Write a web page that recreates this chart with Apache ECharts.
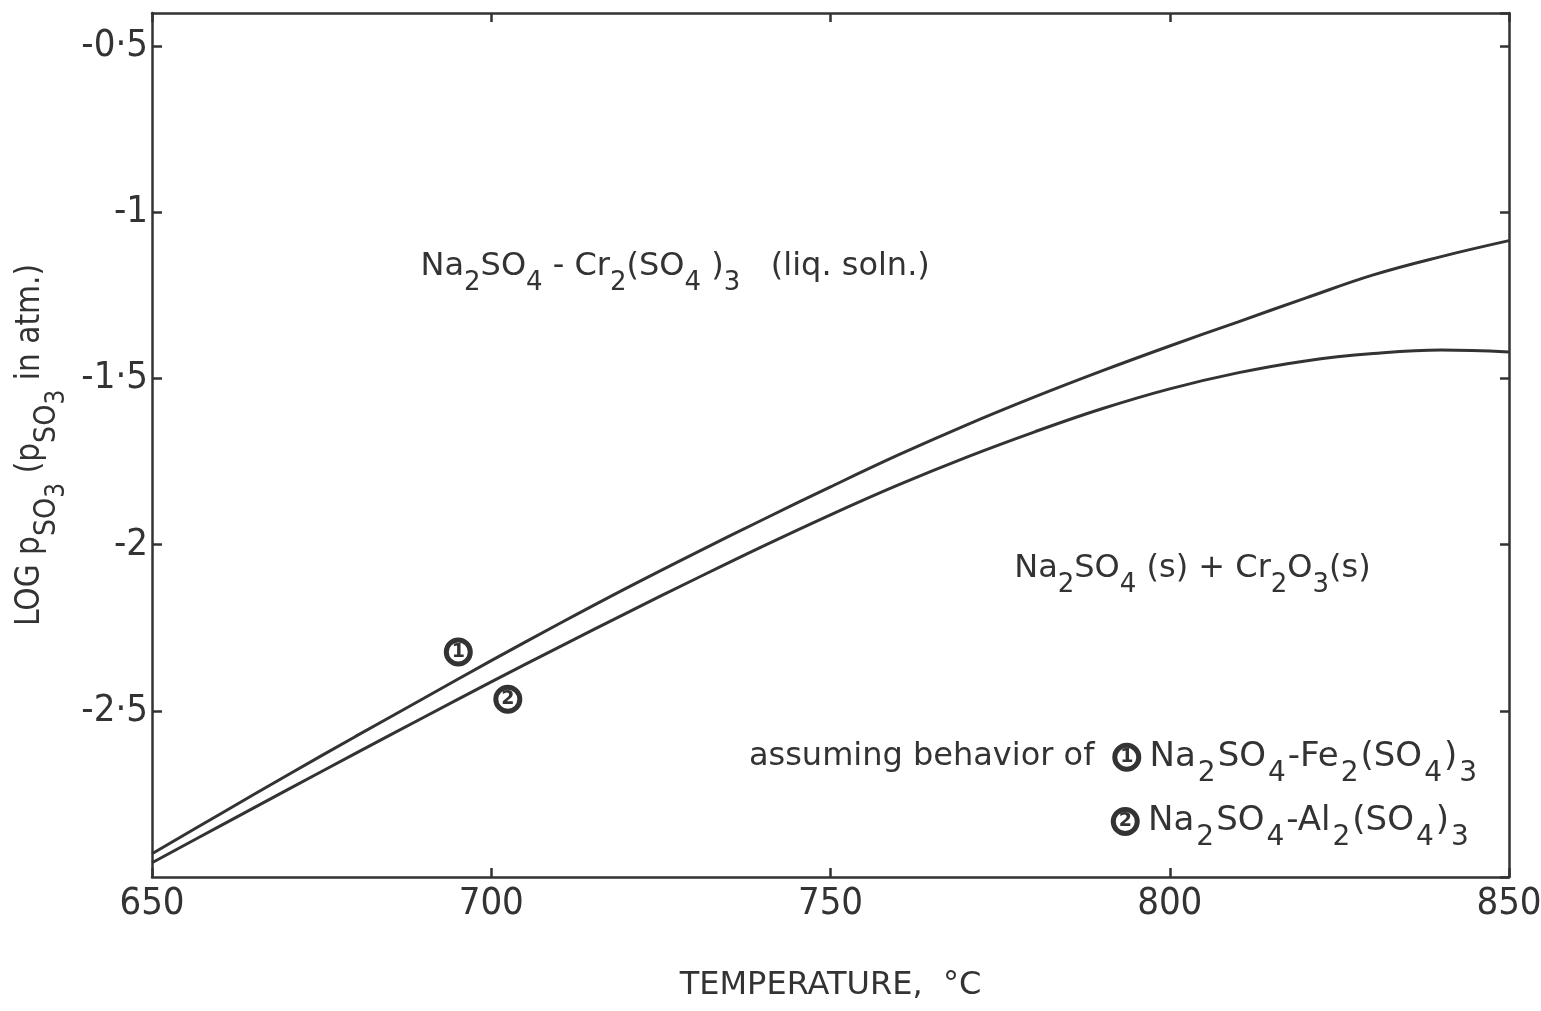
<!DOCTYPE html>
<html>
<head>
<meta charset="utf-8">
<script src="https://cdn.jsdelivr.net/npm/echarts@6/dist/echarts.min.js"></script>
<style>
	html, body { margin: 0; padding: 0; background: #fff; }
	#chart { width: 1541px; height: 1011px; }
</style>
</head>
<body>
<div id="chart"></div>
<script>
	// temperature, °C
	const temps = [650, 660, 670, 680, 690, 700, 710, 720, 730, 740, 750, 760, 770, 780, 790, 800, 810, 820, 830, 840, 850];
	// (1) assuming Na2SO4-Fe2(SO4)3 behaviour
	const logFe = [-2.93, -2.811, -2.693, -2.577, -2.463, -2.349, -2.238, -2.130, -2.026, -1.925, -1.826, -1.730, -1.640, -1.556, -1.477, -1.402, -1.330, -1.258, -1.188, -1.133, -1.085];
	// (2) assuming Na2SO4-Al2(SO4)3 behaviour
	const logAl = [-2.957, -2.847, -2.737, -2.628, -2.52, -2.413, -2.308, -2.205, -2.104, -2.005, -1.910, -1.820, -1.737, -1.661, -1.591, -1.531, -1.483, -1.447, -1.425, -1.414, -1.420];
	const xTicks = [650, 700, 750, 800, 850];
	const yTicks = [-2.5, -2, -1.5, -1, -0.5];

	const ink = '#333';
	const font = '"DejaVu Sans", sans-serif';
	const narrow = '"DejaVu Sans Condensed", "Liberation Sans Narrow", Roboto, sans-serif';

	// rich styles for chemical formulas (subscripts sit low and fairly large)
	const rich = {
		n: { fontSize: 32, lineHeight: 34, verticalAlign: 'top', color: ink, fontFamily: font },
		s: { fontSize: 26, lineHeight: 26, padding: [20, 0, 0, 0], verticalAlign: 'top', color: ink, fontFamily: font },
		// legend formulas are spaced a little wider
		m: { fontSize: 34, lineHeight: 34, verticalAlign: 'top', color: ink, fontFamily: font },
		t: { fontSize: 28, lineHeight: 26, padding: [19, 2, 0, 2], verticalAlign: 'top', color: ink, fontFamily: font },
		c: {
			width: 24, height: 24, lineHeight: 24, verticalAlign: 'middle', align: 'center',
			borderWidth: 5, borderColor: ink, borderRadius: 17,
			fontSize: 19, fontWeight: 'bold', color: ink, fontFamily: font
		},
		// y axis name
		yn: { fontSize: 33, lineHeight: 34, verticalAlign: 'top', color: ink, fontFamily: narrow },
		ys: { fontSize: 30, lineHeight: 30, padding: [18, 0, 0, 0], verticalAlign: 'top', color: ink, fontFamily: narrow },
		yss: { fontSize: 26, lineHeight: 26, padding: [30, 0, 0, 0], verticalAlign: 'top', color: ink, fontFamily: narrow }
	};

	function note(x, y, text) {
		return {
			coord: [x, y],
			symbol: 'circle',
			symbolSize: 1,
			itemStyle: { color: 'rgba(0,0,0,0)' },
			label: { show: true, position: 'right', distance: 0, formatter: text, rich: rich }
		};
	}

	const chart = echarts.init(document.getElementById('chart'));
	const option = {
		animation: false,
		backgroundColor: '#fff',
		grid: { left: 152, right: 32, top: 13, bottom: 134, outerBoundsMode: 'none' },
		xAxis: [{
			type: 'value',
			min: 650,
			max: 850,
			interval: 50,
			name: 'TEMPERATURE,  °C',
			nameLocation: 'middle',
			nameGap: 93,
			nameTextStyle: { fontSize: 32, color: ink, fontFamily: font },
			axisLine: { lineStyle: { color: ink, width: 2.5 } },
			axisTick: { inside: true, length: 9, lineStyle: { color: ink, width: 2.5 } },
			axisLabel: {
				color: ink, fontSize: 38, fontFamily: narrow, margin: 8,
				formatter: v => xTicks.includes(v) ? String(v) : ''
			},
			splitLine: { show: false }
		}, {
			type: 'value',
			position: 'top',
			min: 650,
			max: 850,
			interval: 50,
			axisLine: { lineStyle: { color: ink, width: 2.5 } },
			axisTick: { inside: true, length: 9, lineStyle: { color: ink, width: 2.5 } },
			axisLabel: { show: false },
			splitLine: { show: false }
		}],
		yAxis: [{
			type: 'value',
			min: -3,
			max: -0.4,
			interval: 0.5,
			name: '{yn|LOG p}{ys|SO}{yss|3}{yn| (p}{ys|SO}{yss|3}{yn| in atm.)}',
			nameLocation: 'middle',
			nameGap: 86,
			nameTextStyle: { rich: rich },
			axisLine: { lineStyle: { color: ink, width: 2.5 } },
			axisTick: { inside: true, length: 10, lineStyle: { color: ink, width: 2.5 } },
			axisLabel: {
				color: ink, fontSize: 38, fontFamily: narrow, margin: 4,
				showMinLabel: false, showMaxLabel: false,
				formatter: v => yTicks.includes(v) ? String(v).replace('.', '·') : ''
			},
			splitLine: { show: false }
		}, {
			type: 'value',
			position: 'right',
			min: -3,
			max: -0.4,
			interval: 0.5,
			axisLine: { lineStyle: { color: ink, width: 2.5 } },
			axisTick: { inside: true, length: 9, lineStyle: { color: ink, width: 2.5 } },
			axisLabel: { show: false },
			splitLine: { show: false }
		}],
		series: [{
			name: 'Na2SO4-Fe2(SO4)3',
			type: 'line',
			data: temps.map((t, i) => [t, logFe[i]]),
			symbol: 'none',
			smooth: 0.4,
			lineStyle: { color: ink, width: 3 },
			markPoint: {
				silent: true,
				data: [
					note(689.5, -1.165, '{n|Na}{s|2}{n|SO}{s|4}{n| - Cr}{s|2}{n|(SO}{s|4}{n| )}{s|3}{n|   (liq. soln.)}'),
					note(777, -2.075, '{n|Na}{s|2}{n|SO}{s|4}{n| (s) + Cr}{s|2}{n|O}{s|3}{n|(s)}'),
					note(693.3, -2.323, '{c|1}'),
					note(700.6, -2.465, '{c|2}'),
					note(737.9, -2.64, '{n|assuming behavior of  }{c|1}{m| Na}{t|2}{m|SO}{t|4}{m|-Fe}{t|2}{m|(SO}{t|4}{m|)}{t|3}'),
					note(791.6, -2.833, '{c|2}{m| Na}{t|2}{m|SO}{t|4}{m|-Al}{t|2}{m|(SO}{t|4}{m|)}{t|3}')
				]
			}
		}, {
			name: 'Na2SO4-Al2(SO4)3',
			type: 'line',
			data: temps.map((t, i) => [t, logAl[i]]),
			symbol: 'none',
			smooth: 0.4,
			lineStyle: { color: ink, width: 3 }
		}]
	};
	chart.setOption(option);
</script>
</body>
</html>
